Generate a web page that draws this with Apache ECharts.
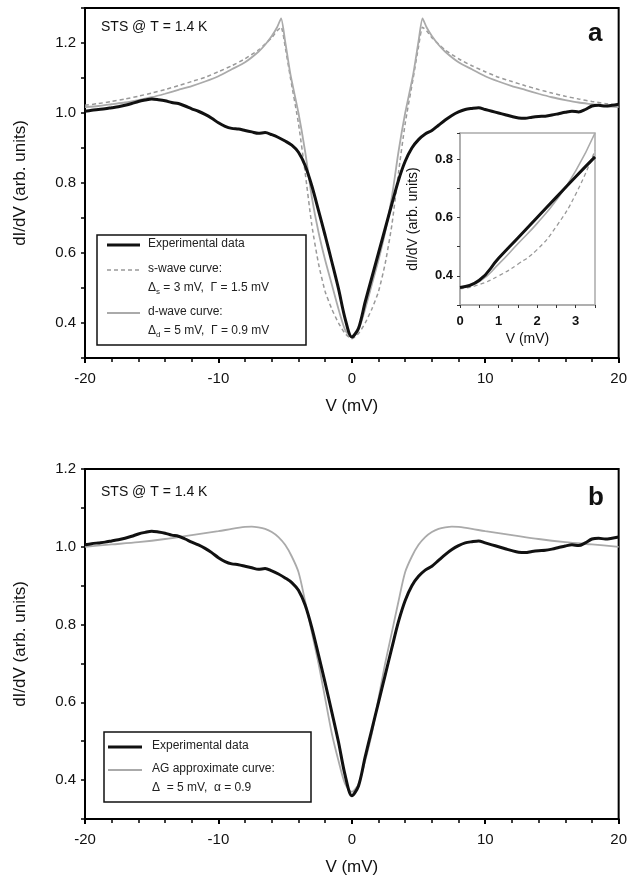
<!DOCTYPE html>
<html>
<head>
<meta charset="utf-8">
<script src="https://cdn.jsdelivr.net/npm/echarts@6/dist/echarts.min.js"></script>
<style>
  html, body { margin: 0; padding: 0; background: #fff; }
  #chart { width: 630px; height: 883px; }
</style>
</head>
<body>
<div id="chart"></div>
<script>
// experimental dI/dV, 0.5 mV steps (same data in panel a, inset and panel b)
var expV = [-20, -19.5, -19, -18.5, -18, -17.5, -17, -16.5, -16, -15.5, -15, -14.5, -14, -13.5, -13, -12.5,
    -12, -11.5, -11, -10.5, -10, -9.5, -9, -8.5, -8, -7.5, -7, -6.5, -6, -5.5, -5, -4.5, -4, -3.5, -3,
    -2.5, -2, -1.5, -1, -0.5, 0, 0.5, 1, 1.5, 2, 2.5, 3, 3.5, 4, 4.5, 5, 5.5, 6, 6.5, 7, 7.5, 8, 8.5,
    9, 9.5, 10, 10.5, 11, 11.5, 12, 12.5, 13, 13.5, 14, 14.5, 15, 15.5, 16, 16.5, 17, 17.5, 18, 18.5,
    19, 19.5, 20]
var expY = [1.005, 1.008, 1.010, 1.012, 1.015, 1.018, 1.022, 1.027, 1.033, 1.037, 1.040, 1.038, 1.035,
    1.030, 1.027, 1.020, 1.012, 1.005, 0.996, 0.985, 0.972, 0.962, 0.956, 0.954, 0.950, 0.946, 0.942,
    0.944, 0.938, 0.930, 0.920, 0.908, 0.888, 0.850, 0.792, 0.722, 0.650, 0.575, 0.498, 0.412, 0.360,
    0.385, 0.460, 0.530, 0.600, 0.670, 0.740, 0.808, 0.862, 0.900, 0.924, 0.940, 0.950, 0.965, 0.980,
    0.993, 1.003, 1.010, 1.013, 1.015, 1.010, 1.005, 1.000, 0.995, 0.990, 0.986, 0.985, 0.988, 0.990,
    0.991, 0.994, 0.998, 1.002, 1.005, 1.003, 1.010, 1.020, 1.022, 1.020, 1.022, 1.025]

// model curves of panel a
var fitV = [-20, -19, -18, -17, -16, -15, -14, -13, -12, -11, -10, -9, -8, -7, -6.5, -6, -5.6, -5.3, -5.0,
    -4.6, -4.0, -3.5, -3.0, -2.5, -2.0, -1.5, -1.0, -0.5, 0, 0.5, 1.0, 1.5, 2.0, 2.5, 3.0, 3.5, 4.0, 4.6,
    5.0, 5.3, 5.6, 6, 6.5, 7, 8, 9, 10, 11, 12, 13, 14, 15, 16, 17, 18, 19, 20]
var dWaveY = [1.017, 1.020, 1.025, 1.030, 1.037, 1.045, 1.055, 1.066, 1.077, 1.090, 1.105, 1.125, 1.145,
    1.175, 1.195, 1.220, 1.245, 1.270, 1.205, 1.110, 1.000, 0.890, 0.760, 0.660, 0.580, 0.510, 0.440,
    0.380, 0.360, 0.380, 0.440, 0.510, 0.580, 0.660, 0.760, 0.890, 1.000, 1.110, 1.205, 1.270, 1.245,
    1.220, 1.195, 1.175, 1.145, 1.125, 1.105, 1.090, 1.077, 1.066, 1.055, 1.045, 1.037, 1.030, 1.025,
    1.020, 1.017]
var sWaveY = [1.022, 1.027, 1.033, 1.040, 1.048, 1.057, 1.067, 1.078, 1.090, 1.102, 1.118, 1.135, 1.155,
    1.180, 1.197, 1.215, 1.235, 1.245, 1.190, 1.100, 0.970, 0.830, 0.680, 0.570, 0.490, 0.440, 0.400,
    0.370, 0.355, 0.370, 0.400, 0.440, 0.490, 0.570, 0.680, 0.830, 0.970, 1.100, 1.190, 1.245, 1.235,
    1.215, 1.197, 1.180, 1.155, 1.135, 1.118, 1.102, 1.090, 1.078, 1.067, 1.057, 1.048, 1.040, 1.033,
    1.027, 1.022]

// AG approximate curve of panel b
var agV = [-20, -18, -16, -14, -12, -10, -9, -8, -7.5, -7, -6.5, -6, -5.5, -5, -4.5, -4, -3.5, -3, -2.5,
    -2, -1.5, -1, -0.5, 0, 0.5, 1, 1.5, 2, 2.5, 3, 3.5, 4, 4.5, 5, 5.5, 6, 6.5, 7, 7.5, 8, 9, 10, 12, 14,
    16, 18, 20]
var agY = [1.000, 1.006, 1.012, 1.020, 1.030, 1.040, 1.046, 1.051, 1.052, 1.050, 1.046, 1.038, 1.025,
    1.005, 0.975, 0.935, 0.860, 0.780, 0.700, 0.610, 0.520, 0.450, 0.390, 0.370, 0.390, 0.450, 0.520,
    0.610, 0.700, 0.780, 0.860, 0.935, 0.975, 1.005, 1.025, 1.038, 1.046, 1.050, 1.052, 1.051, 1.046,
    1.040, 1.030, 1.020, 1.012, 1.006, 1.000]

var FONT = '"Liberation Sans", Arial, sans-serif'

function pairs(xs, ys, lo, hi) {
    var out = []
    for (let i = 0; i < xs.length; i++) {
        if (lo === undefined || (xs[i] >= lo && xs[i] <= hi)) out.push([xs[i], ys[i]])
    }
    return out
}

function evenTenths(lo, hi) {
    return function (v) {
        var t = Math.round(v * 10)
        return (t % 2 === 0 && t >= lo && t <= hi) ? (t / 10).toFixed(1) : ''
    }
}

function mainX(gridIndex) {
    return {
        type: 'value', gridIndex: gridIndex, min: -20, max: 20, interval: 10,
        name: 'V (mV)', nameLocation: 'middle', nameGap: 40,
        nameTextStyle: { fontFamily: FONT, fontSize: 17, color: '#111' },
        axisLine: { onZero: false, lineStyle: { color: '#000', width: 2 } },
        axisTick: { length: 5, lineStyle: { color: '#000', width: 2 } },
        minorTick: { show: true, splitNumber: 5, length: 4, lineStyle: { color: '#000', width: 1.5 } },
        axisLabel: { fontFamily: FONT, fontSize: 15, color: '#111', margin: 13 },
        splitLine: { show: false },
    }
}

function mainY(gridIndex, max) {
    return {
        type: 'value', gridIndex: gridIndex, min: 0.3, max: max, interval: 0.1,
        name: 'dI/dV (arb. units)', nameLocation: 'middle', nameGap: 56,
        nameTextStyle: { fontFamily: FONT, fontSize: 17, color: '#111' },
        axisLine: { onZero: false, lineStyle: { color: '#000', width: 2 } },
        axisTick: { length: 4, lineStyle: { color: '#000', width: 1.5 } },
        axisLabel: { fontFamily: FONT, fontSize: 15, color: '#111', margin: 9,
            formatter: evenTenths(4, 12) },
        splitLine: { show: false },
    }
}

function legendText(x, y, text) {
    return { type: 'text', left: x, top: y - 7, silent: true,
        style: { text: text, font: '12px ' + FONT, fill: '#222' } }
}

function legendRich(x, y, sub, rest) {
    return { type: 'text', left: x, top: y - 7, silent: true,
        style: {
            text: '{a|\u0394}{s|' + sub + '}{a|' + rest + '}',
            rich: {
                a: { font: '12px ' + FONT, fill: '#222', verticalAlign: 'top' },
                s: { font: '8px ' + FONT, fill: '#222', padding: [6, 0, 0, 0] },
            },
        } }
}

function sample(x1, x2, y, color, width, dash) {
    return { type: 'line', silent: true,
        shape: { x1: x1, y1: y, x2: x2, y2: y },
        style: { stroke: color, lineWidth: width, lineDash: dash || null } }
}

var chart = echarts.init(document.getElementById('chart'), null, { renderer: 'canvas' })

chart.setOption({
    animation: false,
    backgroundColor: '#fff',
    grid: [
        { left: 85, top: 8, width: 534, height: 350, show: true, borderColor: '#000', borderWidth: 2 },
        { left: 460, top: 133, width: 135, height: 172, show: true, borderColor: '#aaa',
            borderWidth: 1.5, backgroundColor: '#fff' },
        { left: 85, top: 469, width: 534, height: 350, show: true, borderColor: '#000', borderWidth: 2 },
    ],
    xAxis: [
        mainX(0),
        {
            type: 'value', gridIndex: 1, min: 0, max: 3.5, interval: 0.5,
            name: 'V (mV)', nameLocation: 'middle', nameGap: 27,
            nameTextStyle: { fontFamily: FONT, fontSize: 14, color: '#111' },
            axisLine: { onZero: false, lineStyle: { color: '#aaa', width: 1.5 } },
            axisTick: { length: 3, lineStyle: { color: '#333' } },
            axisLabel: { fontFamily: FONT, fontSize: 13, fontWeight: 'bold', color: '#111', margin: 10,
                formatter: function (v) {
                    return Math.abs(v - Math.round(v)) < 1e-6 ? String(Math.round(v)) : ''
                } },
            splitLine: { show: false },
        },
        mainX(2),
    ],
    yAxis: [
        mainY(0, 1.3),
        {
            type: 'value', gridIndex: 1, min: 0.3, max: 0.89, interval: 0.1,
            name: 'dI/dV (arb. units)', nameLocation: 'middle', nameGap: 40,
            nameTextStyle: { fontFamily: FONT, fontSize: 14, color: '#111' },
            axisLine: { onZero: false, lineStyle: { color: '#aaa', width: 1.5 } },
            axisTick: { length: 3, lineStyle: { color: '#333' } },
            axisLabel: { fontFamily: FONT, fontSize: 13, fontWeight: 'bold', color: '#111', margin: 7,
                formatter: evenTenths(4, 8) },
            splitLine: { show: false },
        },
        mainY(2, 1.2),
    ],
    series: [
        { type: 'line', xAxisIndex: 0, yAxisIndex: 0, data: pairs(fitV, sWaveY), showSymbol: false,
            smooth: 0.2, lineStyle: { color: '#999', width: 1.5, type: [4, 3] } },
        { type: 'line', xAxisIndex: 0, yAxisIndex: 0, data: pairs(fitV, dWaveY), showSymbol: false,
            smooth: 0.2, lineStyle: { color: '#aaa', width: 1.8 } },
        { type: 'line', xAxisIndex: 0, yAxisIndex: 0, data: pairs(expV, expY), showSymbol: false,
            smooth: 0.3, lineStyle: { color: '#111', width: 3 } },

        { type: 'line', xAxisIndex: 1, yAxisIndex: 1, data: pairs(fitV, sWaveY, 0, 3.5), showSymbol: false,
            smooth: true, lineStyle: { color: '#999', width: 1.3, type: [4, 3] } },
        { type: 'line', xAxisIndex: 1, yAxisIndex: 1, data: pairs(fitV, dWaveY, 0, 3.5), showSymbol: false,
            smooth: true, lineStyle: { color: '#aaa', width: 1.6 } },
        { type: 'line', xAxisIndex: 1, yAxisIndex: 1, data: pairs(expV, expY, 0, 3.5), showSymbol: false,
            smooth: true, lineStyle: { color: '#111', width: 3 } },

        { type: 'line', xAxisIndex: 2, yAxisIndex: 2, data: pairs(agV, agY), showSymbol: false,
            smooth: 0.3, lineStyle: { color: '#aaa', width: 1.8 } },
        { type: 'line', xAxisIndex: 2, yAxisIndex: 2, data: pairs(expV, expY), showSymbol: false,
            smooth: 0.3, lineStyle: { color: '#111', width: 3 } },
    ],
    graphic: [
        // panel labels
        { type: 'text', left: 101, top: 20, silent: true,
            style: { text: 'STS @ T = 1.4 K', font: '14px ' + FONT, fill: '#111' } },
        { type: 'text', left: 588, top: 21, silent: true,
            style: { text: 'a', font: 'bold 26px ' + FONT, fill: '#111' } },
        { type: 'text', left: 101, top: 485, silent: true,
            style: { text: 'STS @ T = 1.4 K', font: '14px ' + FONT, fill: '#111' } },
        { type: 'text', left: 588, top: 485, silent: true,
            style: { text: 'b', font: 'bold 26px ' + FONT, fill: '#111' } },

        // legend of panel a
        { type: 'rect', silent: true, shape: { x: 97, y: 235, width: 209, height: 110 },
            style: { fill: '#fff', stroke: '#111', lineWidth: 1.5 } },
        sample(107, 140, 245, '#111', 3),
        legendText(148, 245, 'Experimental data'),
        sample(107, 140, 270, '#999', 1.3, [4, 3]),
        legendText(148, 270, 's-wave curve:'),
        legendRich(148, 289, 's', ' = 3 mV,  \u0393 = 1.5 mV'),
        sample(107, 140, 313, '#aaa', 1.8),
        legendText(148, 313, 'd-wave curve:'),
        legendRich(148, 332, 'd', ' = 5 mV,  \u0393 = 0.9 mV'),

        // legend of panel b
        { type: 'rect', silent: true, shape: { x: 104, y: 732, width: 207, height: 70 },
            style: { fill: '#fff', stroke: '#111', lineWidth: 1.5 } },
        sample(108, 142, 747, '#111', 3),
        legendText(152, 747, 'Experimental data'),
        sample(108, 142, 770, '#aaa', 1.8),
        legendText(152, 770, 'AG approximate curve:'),
        legendText(152, 789, '\u0394  = 5 mV,  \u03b1 = 0.9'),
    ],
})
</script>
</body>
</html>
